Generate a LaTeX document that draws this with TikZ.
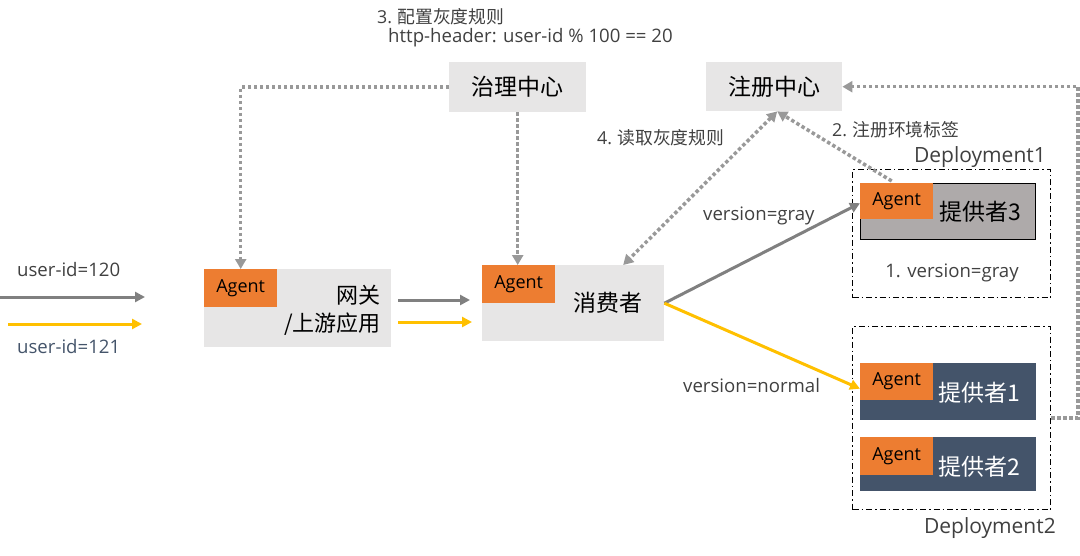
\documentclass[tikz,border=0pt]{standalone}
\usepackage{fontspec}
\setmainfont{Noto Sans CJK SC}
\newfontfamily\lat{Open Sans}
\usetikzlibrary{arrows.meta}
\definecolor{lgray}{HTML}{E7E6E6}
\definecolor{agentor}{HTML}{ED7D31}
\definecolor{navy}{HTML}{44546A}
\definecolor{p3gray}{HTML}{AEAAAA}
\definecolor{arrgray}{HTML}{808080}
\definecolor{arryel}{HTML}{FFC000}
\definecolor{txtgray}{HTML}{404040}
\definecolor{dotgray}{HTML}{999999}
\tikzset{
  dtip/.tip={Triangle[length=10pt,width=11pt]},
  box/.style={anchor=north west, inner sep=0pt, draw=none},
  agentbox/.style={box, fill=agentor, minimum width=73pt, font=\lat\fontsize{18}{20}\selectfont, text=black},
  bigtxt/.style={font=\fontsize{23}{28}\selectfont, inner sep=0pt},
  lbl/.style={font=\fontsize{17.8}{20}\selectfont, text=txtgray, inner sep=0pt},
  latlbl/.style={lbl, font=\lat\fontsize{18.6}{20}\selectfont},
  flowgray/.style={draw=arrgray, line width=3pt, -{Triangle[length=10pt,width=10pt]}},
  flowyel/.style={draw=arryel, line width=3pt, -{Triangle[length=10pt,width=10pt]}},
  dotline/.style={draw=dotgray, line width=3.5pt, dash pattern=on 3.5pt off 2.5pt},
  depbox/.style={box, draw=black, line width=1.3pt, dash pattern=on 6pt off 3pt on 1.5pt off 3pt},
}
\begin{document}
\begin{tikzpicture}[x=1pt,y=-1pt]
\useasboundingbox (0,0) rectangle (1080,555);
% top boxes
\node[box, fill=lgray, minimum width=137pt, minimum height=50pt, bigtxt] (gov) at (449,62) {治理中心};
\node[box, fill=lgray, minimum width=136pt, minimum height=49pt, bigtxt] (reg) at (706,62) {注册中心};
% gateway
\node[box, fill=lgray, minimum width=187pt, minimum height=78pt] (gw) at (204,269) {};
\node[agentbox, minimum height=38pt] (gwa) at (204,269) {Agent};
\node[bigtxt, font=\fontsize{22}{28}\selectfont, align=right, anchor=east] (gwt) at (381,310) {网关\\/上游应用};
% consumer
\node[box, fill=lgray, minimum width=182pt, minimum height=76pt] (cons) at (482,265) {};
\node[agentbox, minimum height=38pt] (consa) at (482,265) {Agent};
\node[bigtxt] (const) at (608,303) {消费者};
% deployments
\node[depbox, minimum width=198pt, minimum height=128pt] (dep1) at (852,169) {};
\node[depbox, minimum width=198pt, minimum height=183pt] (dep2) at (852,326) {};
% providers
\node[box, fill=p3gray, draw=black, line width=1.3pt, minimum width=175pt, minimum height=56pt] (p3) at (860,183) {};
\node[agentbox, minimum height=36pt] (p3a) at (860,183) {Agent};
\node[bigtxt] (p3t) at (980,212) {提供者3};
\node[box, fill=navy, minimum width=176pt, minimum height=57pt] (p1) at (860,363) {};
\node[agentbox, minimum height=37pt] (p1a) at (860,363) {Agent};
\node[bigtxt, text=white] (p1t) at (979,393) {提供者1};
\node[box, fill=navy, minimum width=176pt, minimum height=54pt] (p2) at (860,437) {};
\node[agentbox, minimum height=38pt] (p2a) at (860,437) {Agent};
\node[bigtxt, text=white] (p2t) at (979,467) {提供者2};
% labels
\node[lbl, anchor=west] (l3a) at (377,17) {{\lat 3.} 配置灰度规则};
\node[latlbl, anchor=west] (l3b) at (388,38) {http-header: user-id \% 100 == 20};
\node[lbl, anchor=west] (l4) at (597,138) {{\lat 4.} 读取灰度规则};
\node[lbl, anchor=west] (l2) at (832,130) {{\lat 2.} 注册环境标签};
\node[latlbl, font=\lat\fontsize{21}{24}\selectfont, anchor=east] (d1l) at (1046,157) {Deployment1};
\node[latlbl, font=\lat\fontsize{21}{24}\selectfont, anchor=east] (d2l) at (1056,528) {Deployment2};
\node[latlbl] (v1) at (952,273) {1. version=gray};
\node[latlbl, anchor=west] (vg) at (703,216) {version=gray};
\node[latlbl, anchor=west] (vn) at (683,386) {version=normal};
\node[latlbl, anchor=west] (u0) at (17,270) {user-id=120};
\node[latlbl, anchor=west, text=navy] (u1) at (17,347) {user-id=121};
% free-end coordinates
\coordinate (ing0) at (0,297);
\coordinate (ing1) at (145,297);
\coordinate (iny0) at (8,324);
\coordinate (iny1) at (142,324);
\coordinate (gwo0) at (398,300);
\coordinate (gwo1) at (470,300);
\coordinate (gwy0) at (398,322);
\coordinate (gwy1) at (472,322);
\coordinate (loopc) at (1078,418);
% flows
\draw[flowgray] (ing0) -- (ing1);
\draw[flowyel] (iny0) -- (iny1);
\draw[flowgray] (gwo0) -- (gwo1);
\draw[flowyel] (gwy0) -- (gwy1);
\draw[flowgray] (cons.east) -- ([yshift=-2pt]p3a.west);
\draw[flowyel] (cons.east) -- ([yshift=-7pt]p1a.west);
% dotted
\draw[dotline, -dtip] (gov.west) -| (gwa.north);
\draw[dotline, -dtip] (gov.south) -- (gov.south |- cons.north);
\draw[dotline, dtip-dtip] ([xshift=3pt]reg.south) -- ([xshift=50pt]cons.north);
\draw[dotline, -dtip] ([xshift=-5pt,yshift=2pt]p3a.north) -- ([xshift=3pt]reg.south);
\draw[dotline, -dtip] (dep2.east |- loopc) -- (loopc) |- (reg.east);
\end{tikzpicture}
\end{document}
